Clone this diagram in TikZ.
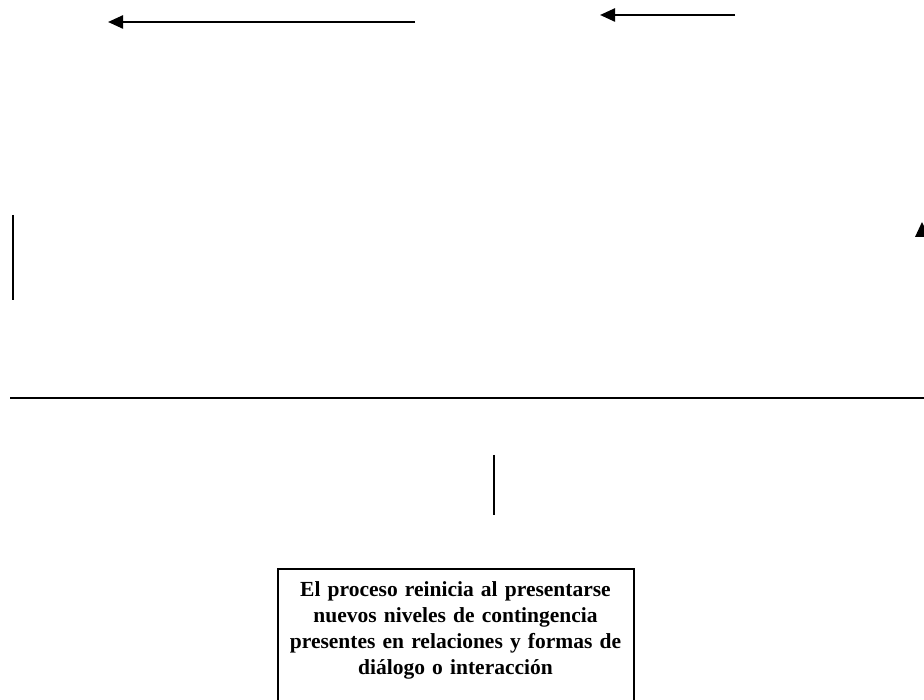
\documentclass[tikz,border=0pt]{standalone}
\usepackage{fontspec}
\setmainfont{Liberation Serif}
\usetikzlibrary{arrows.meta}
\tikzset{
  conn/.style={line width=2.4pt, -{Triangle[length=15pt,width=13pt]}},
  plain/.style={line width=2.4pt},
  textbox/.style={draw, line width=2pt, anchor=north, text width=350pt, align=center,
    inner sep=3pt, minimum height=136pt, font=\fontsize{21.5pt}{26pt}\selectfont\bfseries}
}
\begin{document}
\begin{tikzpicture}[x=1pt,y=1pt]
\useasboundingbox (0,0) rectangle (924,-700);
\clip (0,0) rectangle (924,-700);
% top arrows
\coordinate (a1s) at (415,-22);
\coordinate (a1e) at (108,-22);
\draw[conn] (a1s) -- (a1e);
\coordinate (a2s) at (735,-15);
\coordinate (a2e) at (600,-15);
\draw[conn] (a2s) -- (a2e);
% left vertical line
\coordinate (l1) at (13,-215);
\coordinate (l2) at (13,-300);
\draw[plain] (l1) -- (l2);
% partial arrowhead at right edge
\coordinate (tip) at (922,-222);
\fill (tip) -- (915,-237) -- (929,-237) -- cycle;
% horizontal line
\coordinate (h1) at (10,-398);
\coordinate (h2) at (924,-398);
\draw[line width=2.6pt] (h1) -- (h2);
% middle vertical line
\coordinate (m1) at (494,-455);
\coordinate (m2) at (494,-515);
\draw[plain] (m1) -- (m2);
% text box
\node[textbox] (box) at (455.5,-568) {El proceso reinicia al presentarse\\ nuevos niveles de contingencia\\ presentes en relaciones y formas de\\ diálogo o interacción\rule[-18pt]{0pt}{1pt}};
\end{tikzpicture}
\end{document}
